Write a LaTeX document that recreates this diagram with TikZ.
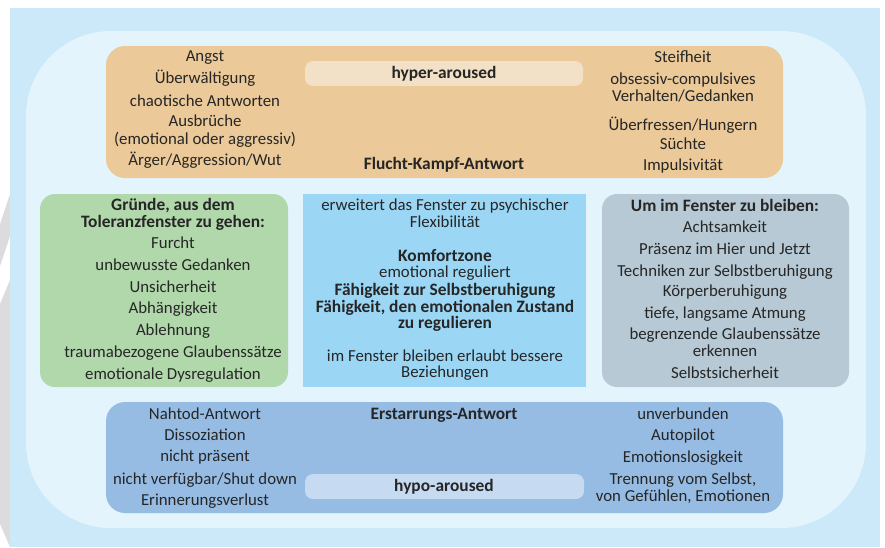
\documentclass[tikz,border=0pt]{standalone}
\usepackage{fontspec}
\setmainfont{Carlito}
\definecolor{bgblue}{HTML}{CCE9F9}
\definecolor{panel}{HTML}{E3F4FD}
\definecolor{orangebox}{HTML}{EBC998}
\definecolor{orangepill}{HTML}{F3E1C7}
\definecolor{greenbox}{HTML}{B0D8AA}
\definecolor{centerbox}{HTML}{9BD7F5}
\definecolor{greybox}{HTML}{B6C9D4}
\definecolor{bluebox}{HTML}{96BCE4}
\definecolor{bluepill}{HTML}{C6DAF2}
\definecolor{stripe}{HTML}{DCDCDC}
\definecolor{textc}{HTML}{262626}
\begin{document}
\begin{tikzpicture}[x=1pt,y=-1pt,
  txt/.style={font=\fontsize{16.8}{18}\selectfont, text=textc, inner sep=0pt, anchor=base},
  btxt/.style={txt, font=\fontsize{17.4}{18}\selectfont\bfseries}]
\useasboundingbox (0,0) rectangle (885,547);
% left margin stripes
\fill[stripe] (0,224) -- (10,194) -- (10,236) -- (0,266) -- cycle;
\fill[stripe] (0,304) -- (10,280) -- (10,547) -- (0,524) -- cycle;
% backgrounds
\fill[bgblue] (10,8) rectangle (880,547);
\fill[panel, rounded corners=85pt] (26,31) rectangle (866,528);
% boxes
\fill[orangebox, rounded corners=19pt] (106,46) rectangle (783,178);
\fill[orangepill, rounded corners=8pt] (305,61) rectangle (583,86);
\fill[greenbox, rounded corners=15pt] (40,194) rectangle (288,387);
\fill[centerbox] (303,194) rectangle (586,387);
\fill[greybox, rounded corners=15pt] (602,194) rectangle (849,387);
\fill[bluebox, rounded corners=19pt] (106,402) rectangle (783,513);
\fill[bluepill, rounded corners=8pt] (305,474) rectangle (584,499);
% top box texts
\node[btxt] (hyper) at (444,78) {hyper-aroused};
\node[btxt] (flucht) at (444,169) {Flucht-Kampf-Antwort};
\foreach \y/\t [count=\i] in {61/{Angst},83/{Überwältigung},106/{chaotische Antworten},126/{Ausbrüche},144/{(emotional oder aggressiv)},165/{Ärger/Aggression/Wut}}
  \node[txt] (ol\i) at (205,\y) {\t};
\foreach \y/\t [count=\i] in {62/{Steifheit},84/{obsessiv-compulsives},101/{Verhalten/Gedanken},130/{Überfressen/Hungern},149/{Süchte},170/{Impulsivität}}
  \node[txt] (or\i) at (683,\y) {\t};
% green box
\node[btxt] (g1) at (173,210) {Gründe, aus dem};
\node[btxt] (g2) at (173,227) {Toleranzfenster zu gehen:};
\foreach \y/\t [count=\i] in {248/{Furcht},270/{unbewusste Gedanken},292/{Unsicherheit},313/{Abhängigkeit},335/{Ablehnung},357/{traumabezogene Glaubenssätze},379/{emotionale Dysregulation}}
  \node[txt] (gl\i) at (173,\y) {\t};
% center box
\node[txt] (c1) at (445,210) {erweitert das Fenster zu psychischer};
\node[txt] (c2) at (445,227) {Flexibilität};
\node[btxt] (c3) at (445,261) {Komfortzone};
\node[txt] (c4) at (445,277) {emotional reguliert};
\node[btxt] (c5) at (445,295) {Fähigkeit zur Selbstberuhigung};
\node[btxt] (c6) at (445,312) {Fähigkeit, den emotionalen Zustand};
\node[btxt] (c7) at (445,328) {zu regulieren};
\node[txt] (c8) at (445,361) {im Fenster bleiben erlaubt bessere};
\node[txt] (c9) at (445,377) {Beziehungen};
% grey box
\node[btxt] (s0) at (725,211) {Um im Fenster zu bleiben:};
\foreach \y/\t [count=\i] in {232/{Achtsamkeit},254/{Präsenz im Hier und Jetzt},276/{Techniken zur Selbstberuhigung},296/{Körperberuhigung},318/{tiefe, langsame Atmung},339/{begrenzende Glaubenssätze},356/{erkennen},378/{Selbstsicherheit}}
  \node[txt] (sl\i) at (725,\y) {\t};
% bottom box
\node[btxt] (erst) at (444,419) {Erstarrungs-Antwort};
\node[btxt] (hypo) at (444,491) {hypo-aroused};
\foreach \y/\t [count=\i] in {419/{Nahtod-Antwort},440/{Dissoziation},461/{nicht präsent},484/{nicht verfügbar/Shut down},505/{Erinnerungsverlust}}
  \node[txt] (bl\i) at (205,\y) {\t};
\foreach \y/\t [count=\i] in {419/{unverbunden},440/{Autopilot},462/{Emotionslosigkeit},484/{Trennung vom Selbst,},501/{von Gefühlen, Emotionen}}
  \node[txt] (br\i) at (683,\y) {\t};
\end{tikzpicture}
\end{document}
